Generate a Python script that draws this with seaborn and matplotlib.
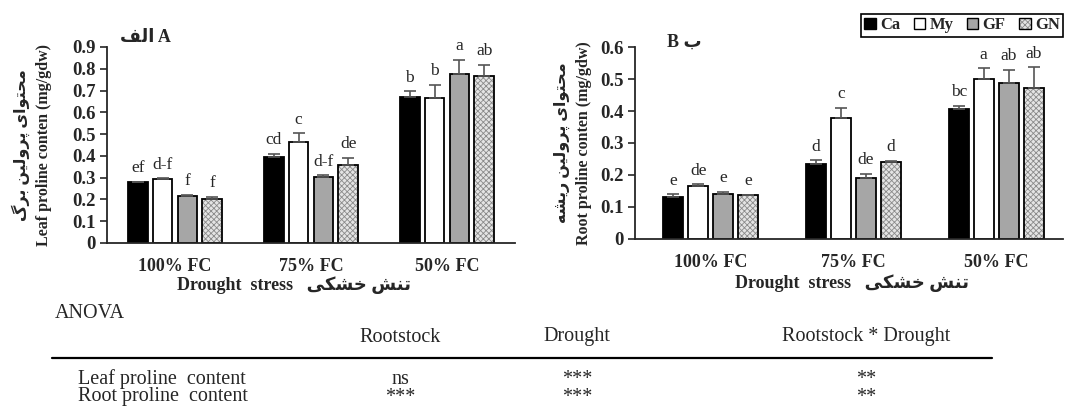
import matplotlib
matplotlib.use("Agg")
import matplotlib.pyplot as plt
import seaborn as sns
import pandas as pd
from matplotlib.colors import to_rgba
from matplotlib.patches import Patch
from matplotlib.lines import Line2D

# ---- data ----
stress_levels = ["100% FC", "75% FC", "50% FC"]
rootstocks = ["Ca", "My", "GF", "GN"]

leaf_mean = {
    "Ca": [0.278, 0.394, 0.668],
    "My": [0.294, 0.462, 0.667],
    "GF": [0.217, 0.305, 0.778],
    "GN": [0.200, 0.357, 0.766],
}
leaf_err = {
    "Ca": [0.004, 0.016, 0.029],
    "My": [0.003, 0.041, 0.059],
    "GF": [0.004, 0.005, 0.062],
    "GN": [0.013, 0.035, 0.053],
}
leaf_letters = {
    "Ca": ["ef", "cd", "b"],
    "My": ["d-f", "c", "b"],
    "GF": ["f", "d-f", "a"],
    "GN": ["f", "de", "ab"],
}

root_mean = {
    "Ca": [0.132, 0.235, 0.406],
    "My": [0.167, 0.378, 0.500],
    "GF": [0.141, 0.191, 0.489],
    "GN": [0.136, 0.242, 0.472],
}
root_err = {
    "Ca": [0.008, 0.011, 0.011],
    "My": [0.004, 0.032, 0.033],
    "GF": [0.007, 0.012, 0.039],
    "GN": [0.003, 0.003, 0.064],
}
root_letters = {
    "Ca": ["e", "d", "bc"],
    "My": ["de", "c", "a"],
    "GF": ["e", "de", "ab"],
    "GN": ["e", "d", "ab"],
}

anova_cols = ["Rootstock", "Drought", "Rootstock * Drought"]
anova_rows = ["Leaf proline  content", "Root proline  content"]
anova_vals = [["ns", "***", "**"],
              ["***", "***", "**"]]

colors = {"Ca": "#000000", "My": "#ffffff", "GF": "#a6a6a6", "GN": "#e4e4e4"}

# ---- minimal Persian shaping (presentation forms, right-to-left) ----
FORMS = {  # isolated, final, initial, medial
    "ا": ("\uFE8D", "\uFE8E", None, None),
    "ل": ("\uFEDD", "\uFEDE", "\uFEDF", "\uFEE0"),
    "ف": ("\uFED1", "\uFED2", "\uFED3", "\uFED4"),
    "م": ("\uFEE1", "\uFEE2", "\uFEE3", "\uFEE4"),
    "ح": ("\uFEA1", "\uFEA2", "\uFEA3", "\uFEA4"),
    "ت": ("\uFE95", "\uFE96", "\uFE97", "\uFE98"),
    "و": ("\uFEED", "\uFEEE", None, None),
    "ی": ("\uFBFC", "\uFBFD", "\uFBFE", "\uFBFF"),
    "پ": ("\uFB56", "\uFB57", "\uFB58", "\uFB59"),
    "ر": ("\uFEAD", "\uFEAE", None, None),
    "ن": ("\uFEE5", "\uFEE6", "\uFEE7", "\uFEE8"),
    "ب": ("\uFE8F", "\uFE90", "\uFE91", "\uFE92"),
    "گ": ("\uFB92", "\uFB93", "\uFB94", "\uFB95"),
    "ش": ("\uFEB5", "\uFEB6", "\uFEB7", "\uFEB8"),
    "ه": ("\uFEE9", "\uFEEA", "\uFEEB", "\uFEEC"),
    "خ": ("\uFEA5", "\uFEA6", "\uFEA7", "\uFEA8"),
    "ک": ("\uFB8E", "\uFB8F", "\uFB90", "\uFB91"),
}


def fa(text):
    out = []
    for i, c in enumerate(text):
        if c not in FORMS:
            out.append(c)
            continue
        prev = text[i - 1] if i > 0 else None
        nxt = text[i + 1] if i + 1 < len(text) else None
        join_prev = prev in FORMS and FORMS[prev][2] is not None
        join_next = nxt in FORMS and FORMS[c][2] is not None
        iso, fin, ini, med = FORMS[c]
        if join_prev and join_next:
            out.append(med)
        elif join_prev:
            out.append(fin)
        elif join_next:
            out.append(ini)
        else:
            out.append(iso)
    return "".join(reversed(out))


sns.set_style("ticks")
plt.rcParams["font.family"] = ["Liberation Serif", "DejaVu Sans"]
plt.rcParams["font.weight"] = "bold"
plt.rcParams["axes.labelweight"] = "bold"
plt.rcParams["hatch.linewidth"] = 0.6
MIXED = ["Liberation Serif", "DejaVu Sans"]


def long_df(means):
    rows = []
    for r in rootstocks:
        for s, v in zip(stress_levels, means[r]):
            rows.append({"stress": s, "rootstock": r, "value": v})
    return pd.DataFrame(rows)


def draw_panel(ax, means, errs, letters, ymax, width, gap):
    sns.barplot(data=long_df(means), x="stress", y="value", hue="rootstock",
                order=stress_levels, hue_order=rootstocks, palette=colors,
                edgecolor="black", linewidth=1.3, width=width, gap=gap,
                errorbar=None, legend=False, saturation=1, ax=ax)
    for r, cont in zip(rootstocks, ax.containers):
        xs = [b.get_x() + b.get_width() / 2 for b in cont.patches]
        if r == "GN":
            for b in cont.patches:
                b.set_hatch("xxxxxx")
                b._hatch_color = to_rgba("#8a8a8a")
        ax.errorbar(xs, means[r], yerr=[[0] * 3, errs[r]], fmt="none",
                    ecolor="#555555", elinewidth=1.2, capsize=4, capthick=1.2)
        for x, m, e, t in zip(xs, means[r], errs[r], letters[r]):
            ax.annotate(t, (x, m + e), xytext=(0, 4), textcoords="offset points",
                        ha="center", va="bottom", fontsize=12.5, fontweight="normal")
    ax.set_ylim(0, ymax)
    ax.set_xlim(-0.5, 2.5)
    ticks = [i / 10 for i in range(int(round(ymax * 10)) + 1)]
    ax.set_yticks(ticks)
    ax.set_yticklabels(["0"] + [f"{t:.1f}" for t in ticks[1:]])
    ax.tick_params(axis="y", length=5, width=1.2, pad=3, labelsize=13.5)
    ax.tick_params(axis="x", length=0, pad=11, labelsize=13)
    for s in ["top", "right"]:
        ax.spines[s].set_visible(False)
    for s in ["left", "bottom"]:
        ax.spines[s].set_linewidth(1.3)
    ax.set_ylabel("")


fig = plt.figure(figsize=(10.82, 4.07), dpi=100)
ax1 = fig.add_axes([0.0989, 0.403, 0.377, 0.4816])
ax2 = fig.add_axes([0.587, 0.4128, 0.3956, 0.4717])

draw_panel(ax1, leaf_mean, leaf_err, leaf_letters, 0.9, 0.73, 0.21)
draw_panel(ax2, root_mean, root_err, root_letters, 0.6, 0.70, 0.20)
ax2.set_xlim(-0.53, 2.47)

ax1.set_ylabel(fa("محتوای پرولین برگ") + "\nLeaf proline conten (mg/gdw)",
               family=MIXED, fontsize=11.5, linespacing=1.5)
ax1.yaxis.set_label_coords(-0.135, 0.5)
ax2.set_ylabel(fa("محتوای پرولین ریشه") + "\nRoot proline conten (mg/gdw)",
               family=MIXED, fontsize=11.5, linespacing=1.5)
ax2.yaxis.set_label_coords(-0.1, 0.5)

ax1.set_xlabel("Drought  stress   " + fa("تنش خشکی"), family=MIXED, fontsize=13)
ax1.xaxis.set_label_coords(0.458, -0.17)
ax2.set_xlabel("Drought  stress   " + fa("تنش خشکی"), family=MIXED, fontsize=13)
ax2.xaxis.set_label_coords(0.507, -0.185)

fig.text(120 / 1082, 1 - 37 / 407, fa("الف") + " A", family=MIXED,
         fontsize=13, ha="left", va="center")
fig.text(667 / 1082, 1 - 42 / 407, "B " + fa("ب"), family=MIXED,
         fontsize=13, ha="left", va="center")

handles = [Patch(facecolor=colors[r], edgecolor="black", linewidth=1.0,
                 hatch="xxxxxx" if r == "GN" else None) for r in rootstocks]
leg = fig.legend(handles, rootstocks, ncol=4, loc="upper right",
                 bbox_to_anchor=(1063 / 1082, 1 - 14 / 407), borderaxespad=0,
                 frameon=True, fancybox=False, edgecolor="black", framealpha=1,
                 borderpad=0.2, handlelength=0.7, handleheight=0.7,
                 handletextpad=0.25, columnspacing=0.8,
                 prop={"family": "Liberation Serif", "weight": "bold", "size": 12})
leg.get_frame().set_linewidth(1.2)
for p in leg.get_patches():
    if p.get_hatch():
        p._hatch_color = to_rgba("#8a8a8a")

# ---- ANOVA table ----
tkw = dict(fontweight="normal", fontsize=14.5, family="Liberation Serif", va="center")
col_x = [400, 577, 866]
fig.text(55 / 1082, 1 - 313 / 407, "ANOVA", ha="left", **tkw)
for c, x in zip(anova_cols, col_x):
    fig.text(x / 1082, 1 - 337 / 407, c, ha="center", **tkw)
fig.add_artist(Line2D([52 / 1082, 992 / 1082], [1 - 358 / 407] * 2,
                      transform=fig.transFigure, color="black", linewidth=1.6))
for row, vals, y in zip(anova_rows, anova_vals, [379, 397]):
    fig.text(78 / 1082, 1 - y / 407, row, ha="left", **tkw)
    for v, x in zip(vals, col_x):
        fig.text(x / 1082, 1 - y / 407, v, ha="center", **tkw)

fig.savefig("out.png", dpi=100)
